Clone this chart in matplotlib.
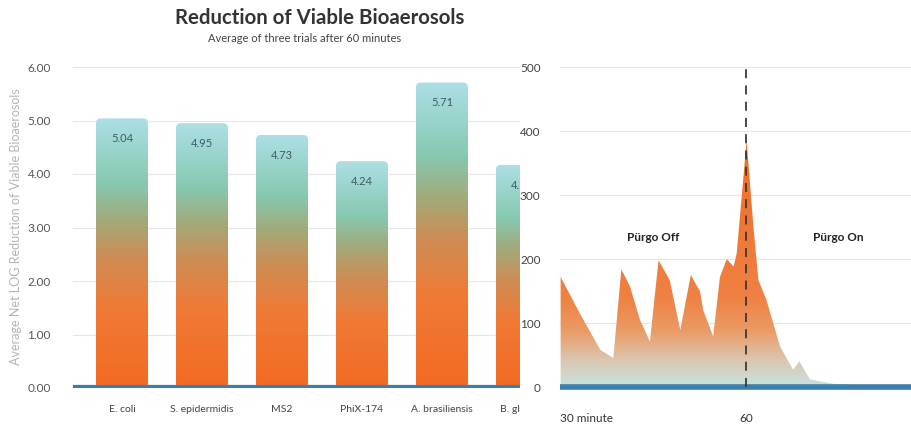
import numpy as np
import matplotlib
matplotlib.use("Agg")
import matplotlib.pyplot as plt
from matplotlib.colors import LinearSegmentedColormap
from matplotlib.patches import FancyBboxPatch

plt.rcParams['font.family'] = ['Lato', 'DejaVu Sans']

# --- data ---
organisms = ["E. coli", "S. epidermidis", "MS2", "PhiX-174", "A. brasiliensis", "B. globigii"]
log_reduction = [5.04, 4.95, 4.73, 4.24, 5.71, 4.17]
value_labels = ["5.04", "4.95", "4.73", "4.24", "5.71", "4.17"]
left_yticks = [0, 1, 2, 3, 4, 5, 6]

minutes = [30.1, 33.2, 36.5, 38.6, 39.9, 41.3, 42.9, 44.5, 45.9, 47.7, 49.4,
           51.1, 52.6, 53.1, 54.7, 55.8, 56.9, 58.0, 58.5, 60.1, 61.2, 62.0,
           63.3, 65.5, 67.6, 68.6, 70.3, 74.0, 80.0, 87.0]
particles = [172, 115, 58, 45, 184, 157, 105, 71, 198, 167, 89,
             175, 149, 120, 79, 172, 200, 188, 209, 385, 250, 167,
             136, 63, 27, 40, 12, 5, 3, 2]
right_yticks = [0, 100, 200, 300, 400, 500]
right_xticks = [30, 60]
right_xlabels = ["30 minute", "60"]

W, H = 912, 430
fig = plt.figure(figsize=(W / 100, H / 100), dpi=100)

bar_cmap = LinearSegmentedColormap.from_list("bar", [
    (0.0, "#f26a22"), (0.3, "#f07a36"), (0.48, "#cf8c54"),
    (0.62, "#a3a979"), (0.76, "#86c9b0"), (1.0, "#addfe6")])
area_cmap = LinearSegmentedColormap.from_list("area", [
    (0.0, "#c6e3e1"), (0.1, "#dac8b2"), (0.22, "#eb9a65"),
    (0.35, "#ef8143"), (1.0, "#f26a22")])

blue = "#3b7dab"
grid_c = "#e6e6e6"

# --- left chart ---
px_unit = (388 - 67) / 6.0
ytop = 6.05
ax = fig.add_axes([73 / W, (H - 388) / H, 487 / W, (ytop * px_unit) / H])
ax.set_zorder(1)
bw = 0.65
x = np.arange(len(organisms))
grad = np.linspace(0, 1, 256).reshape(-1, 1)
for xi, h, lab in zip(x, log_reduction, value_labels):
    patch = FancyBboxPatch((xi - bw / 2, 0), bw, h,
                           boxstyle="round,pad=0,rounding_size=0.06",
                           mutation_aspect=1.5, facecolor="none",
                           edgecolor="none", zorder=2)
    ax.add_patch(patch)
    im = ax.imshow(grad, extent=[xi - bw / 2, xi + bw / 2, 0, h],
                   aspect="auto", origin="lower", cmap=bar_cmap, zorder=2)
    im.set_clip_path(patch)
    ax.text(xi, h - 0.38, lab, ha="center", va="center", fontsize=8,
            color="#3f5b66", zorder=3)
ax.axhline(0, color=blue, lw=4.5, zorder=4)
ax.set_xlim(-0.6125, 5.475)
ax.set_ylim(0, ytop)
ax.set_yticks(left_yticks)
ax.set_yticklabels([f"{v:.2f}" for v in left_yticks])
ax.set_xticks(x)
ax.set_xticklabels(organisms)
ax.tick_params(axis="y", length=0, pad=16, labelsize=8.5, labelcolor="#555555")
ax.tick_params(axis="x", length=0, pad=12, labelsize=7.5, labelcolor="#444444")
ax.grid(axis="y", color=grid_c, lw=0.8, zorder=0)
ax.set_axisbelow(True)
for s in ax.spines.values():
    s.set_visible(False)
ax.set_ylabel("Average Net LOG Reduction of Viable Bioaerosols", fontsize=9,
              color="#b5b5b5", labelpad=4)

fig.text(320 / W, 1 - 18 / H, "Reduction of Viable Bioaerosols", ha="center",
         va="center", fontsize=14.7, fontweight="bold", color="#333333")
fig.text(305 / W, 1 - 38 / H, "Average of three trials after 60 minutes",
         ha="center", va="center", fontsize=8, color="#444444")

# white cover that cuts off the left chart
cover = fig.add_axes([520 / W, 0, 1 - 520 / W, 1])
cover.set_zorder(1.5)
cover.set_facecolor("white")
cover.set_xticks([])
cover.set_yticks([])
for s in cover.spines.values():
    s.set_visible(False)

# --- right chart ---
pu = 0.64
ylo, yhi = -12, 510
bx = fig.add_axes([560 / W, (H - (387 - ylo * pu)) / H, 352 / W, ((yhi - ylo) * pu) / H])
bx.set_zorder(2)
bx.patch.set_alpha(0)
xlim = (30, 30 + 352 / 6.2)
poly = bx.fill_between(minutes, particles, 0, color="none", lw=0, zorder=2)
im2 = bx.imshow(grad, extent=[xlim[0], xlim[1], 0, 400], aspect="auto",
                origin="lower", cmap=area_cmap, zorder=2)
im2.set_clip_path(poly.get_paths()[0], transform=bx.transData)
bx.axhline(0, color=blue, lw=4, zorder=4)
bx.plot([60, 60], [0, 500], ls=(0, (5, 4)), color="#3a3a3a", lw=1.3, zorder=5)
bx.text(45, 233, "Pürgo Off", ha="center", va="center", fontsize=8.5,
        fontweight="bold", color="#222222")
bx.text(74.8, 233, "Pürgo On", ha="center", va="center", fontsize=8.5,
        fontweight="bold", color="#222222")
bx.set_xlim(*xlim)
bx.set_ylim(ylo, yhi)
bx.set_yticks(right_yticks)
bx.set_xticks(right_xticks)
bx.set_xticklabels(right_xlabels)
bx.get_xticklabels()[0].set_horizontalalignment("left")
bx.tick_params(axis="y", length=0, pad=14, labelsize=8.5, labelcolor="#444444")
bx.tick_params(axis="x", length=0, pad=13, labelsize=8.5, labelcolor="#333333")
bx.grid(axis="y", color=grid_c, lw=0.8, zorder=0)
bx.set_axisbelow(True)
for s in bx.spines.values():
    s.set_visible(False)

fig.savefig("out.png", dpi=100, facecolor="white")
